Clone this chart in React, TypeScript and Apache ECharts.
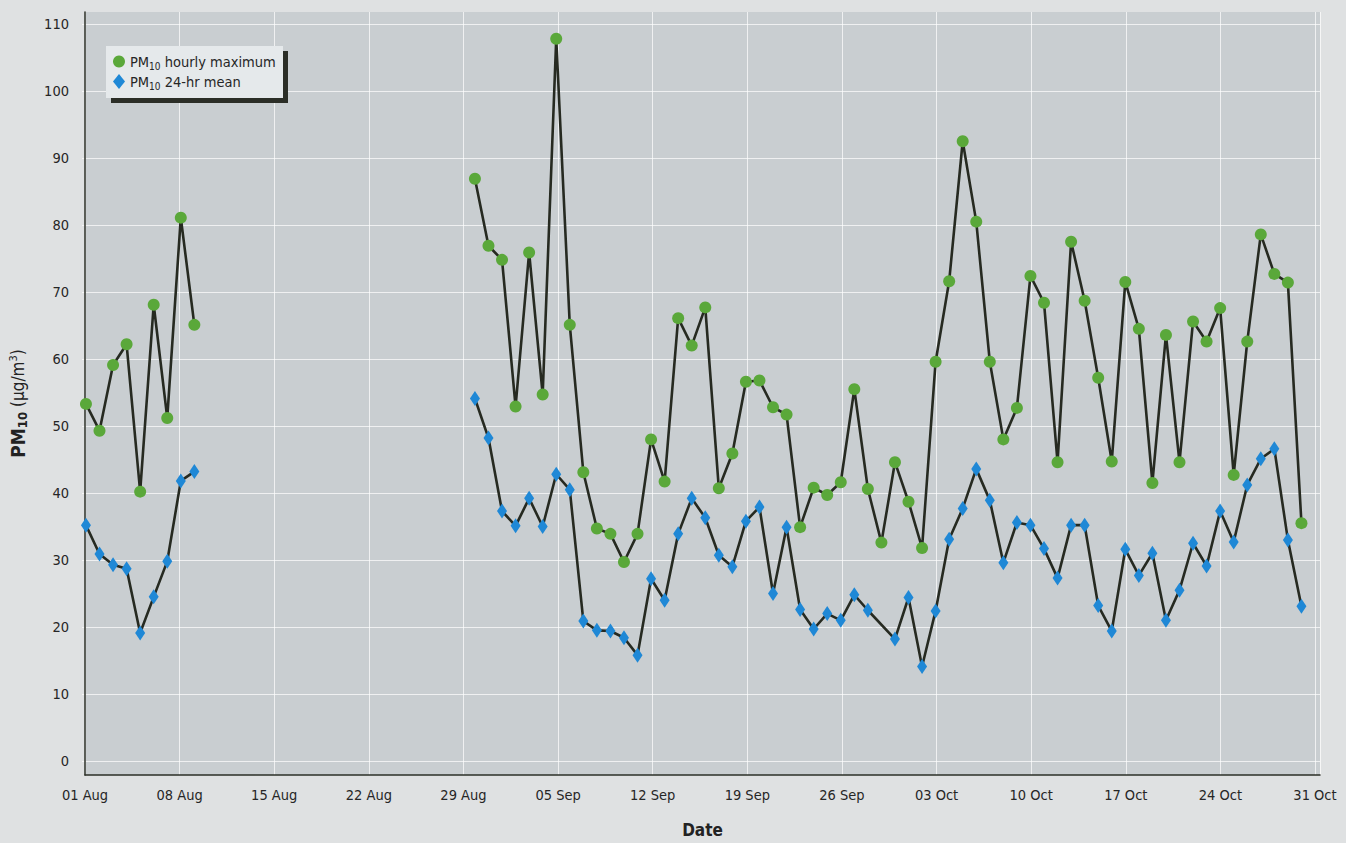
import React, { useEffect, useRef } from 'react';
import * as echarts from 'echarts';

const FONT = '"Liberation Sans Narrow", "DejaVu Sans Condensed", "Arial Narrow", sans-serif';

// x axis: days since 01 Aug, weekly ticks
const xTickLabels = ['01 Aug', '08 Aug', '15 Aug', '22 Aug', '29 Aug', '05 Sep', '12 Sep', '19 Sep', '26 Sep', '03 Oct', '10 Oct', '17 Oct', '24 Oct', '31 Oct'];
const X_MAX_DAYS = 91.37;

// first block of observations (plotted at ~07:00 each day)
const earlyHour = 7;
const earlyDates = ['08-01', '08-02', '08-03', '08-04', '08-05', '08-06', '08-07', '08-08', '08-09'];
const earlyHourlyMax = [53.3, 49.3, 59.1, 62.2, 40.2, 68.1, 51.2, 81.1, 65.1];
const earlyMean = [35.2, 30.9, 29.3, 28.7, 19.1, 24.5, 29.8, 41.8, 43.2];

// second block of observations (midnight)
const lateHour = 0;
const lateDates = [
  '08-30', '08-31',
  '09-01', '09-02', '09-03', '09-04', '09-05', '09-06', '09-07', '09-08', '09-09', '09-10',
  '09-11', '09-12', '09-13', '09-14', '09-15', '09-16', '09-17', '09-18', '09-19', '09-20',
  '09-21', '09-22', '09-23', '09-24', '09-25', '09-26', '09-27', '09-28', '09-29', '09-30',
  '10-01', '10-02', '10-03', '10-04', '10-05', '10-06', '10-07', '10-08', '10-09', '10-10',
  '10-11', '10-12', '10-13', '10-14', '10-15', '10-16', '10-17', '10-18', '10-19', '10-20',
  '10-21', '10-22', '10-23', '10-24', '10-25', '10-26', '10-27', '10-28', '10-29', '10-30',
];
const lateHourlyMax = [
  86.9, 76.9,
  74.8, 52.9, 75.9, 54.7, 107.8, 65.1, 43.1, 34.7, 33.9, 29.7,
  33.9, 48.0, 41.7, 66.1, 62.0, 67.7, 40.7, 45.9, 56.6, 56.8,
  52.8, 51.7, 34.9, 40.8, 39.7, 41.6, 55.5, 40.6, 32.6, 44.6,
  38.7, 31.8, 59.6, 71.6, 92.5, 80.5, 59.6, 48.0, 52.7, 72.4,
  68.4, 44.6, 77.5, 68.7, 57.2, 44.7, 71.5, 64.5, 41.5, 63.6,
  44.6, 65.6, 62.6, 67.6, 42.7, 62.6, 78.6, 72.7, 71.4, 35.5,
];
const lateMean = [
  54.1, 48.2,
  37.3, 35.1, 39.2, 35.0, 42.8, 40.5, 20.9, 19.5, 19.4, 18.4,
  15.8, 27.2, 24.0, 33.9, 39.2, 36.3, 30.7, 29.0, 35.8, 37.9,
  25.0, 34.9, 22.6, 19.7, 22.0, 21.0, 24.8, 22.5, null, 18.2,
  24.4, 14.1, 22.4, 33.1, 37.7, 43.6, 38.9, 29.6, 35.6, 35.2,
  31.7, 27.3, 35.2, 35.2, 23.2, 19.4, 31.6, 27.7, 31.0, 21.0,
  25.5, 32.5, 29.1, 37.3, 32.7, 41.2, 45.1, 46.6, 33.0, 23.1,
];

const SERIES_MAX = 'PM10 hourly maximum';
const SERIES_MEAN = 'PM10 24-hr mean';

const GREEN = '#5aa83a';
const BLUE = '#1f88d6';
const LINE = '#262a21';
const TEXT = '#262626';

function dayOffset(md: string, hour: number): number {
  const [m, d] = md.split('-').map(Number);
  return (Date.UTC(2000, m - 1, d, hour) - Date.UTC(2000, 7, 1, 0)) / 86400000;
}

function pairs(dates: string[], hour: number, values: (number | null)[]) {
  const out: [number, number][] = [];
  values.forEach((v, i) => {
    if (v !== null && v !== undefined) out.push([dayOffset(dates[i], hour), v]);
  });
  return out;
}

export default function App() {
  const ref = useRef<HTMLDivElement>(null);

  useEffect(() => {
    if (!ref.current) return;
    const chart = echarts.init(ref.current, undefined, { renderer: 'svg' });

    const lineSeries = (name: string, data: [number, number][], symbol: string, size: any, color: string) => ({
      name,
      type: 'line',
      xAxisIndex: 1,
      yAxisIndex: 1,
      data,
      symbol,
      symbolSize: size,
      showAllSymbol: true,
      lineStyle: { color: LINE, width: 2.6 },
      itemStyle: { color, borderWidth: 0 },
      emphasis: { disabled: true },
      z: 3,
    });

    const legendRich = {
      a: { fontSize: 14.5, lineHeight: 17, color: TEXT, fontFamily: FONT },
      s: { fontSize: 10, lineHeight: 10, padding: [9, 0, 0, 0], color: TEXT, fontFamily: FONT },
    };

    const option: any = {
      animation: false,
      backgroundColor: '#dfe1e2',
      textStyle: { fontFamily: FONT },
      grid: [
        { left: 82, right: 26, top: 12, bottom: 65, show: true, backgroundColor: '#c9ced1', borderWidth: 0 },
        { left: 82, right: 26, top: 24, bottom: 82 },
      ],
      xAxis: [
        {
          gridIndex: 0,
          type: 'value',
          min: 0,
          max: X_MAX_DAYS,
          interval: 7,
          axisLine: { show: true, onZero: false, lineStyle: { color: '#2b2f27', width: 1.5 } },
          axisTick: { show: false },
          axisLabel: {
            margin: 12,
            fontSize: 14.5,
            color: TEXT,
            fontFamily: FONT,
            showMaxLabel: false,
            formatter: (v: number) => {
              const i = Math.round(v / 7);
              return Math.abs(v - i * 7) < 1e-6 && xTickLabels[i] ? xTickLabels[i] : '';
            },
          },
          splitLine: { show: true, lineStyle: { color: 'rgba(255,255,255,0.7)', width: 1 } },
          name: 'Date',
          nameLocation: 'middle',
          nameGap: 46,
          nameTextStyle: { fontSize: 17, fontWeight: 'bold', color: '#222', fontFamily: FONT },
        },
        { gridIndex: 1, type: 'value', min: 0, max: X_MAX_DAYS, show: false },
      ],
      yAxis: [
        {
          gridIndex: 0,
          type: 'value',
          min: 0,
          max: 1,
          z: 1,
          axisLine: { show: true, lineStyle: { color: '#2b2f27', width: 1.5 } },
          axisTick: { show: false },
          axisLabel: { show: false },
          splitLine: { show: false },
          name: '{b|PM}{bs|10}{n| (µg/m}{sup|3}{n|)}',
          nameLocation: 'middle',
          nameRotate: 90,
          nameGap: 56,
          nameTextStyle: {
            fontFamily: FONT,
            fontSize: 17,
            color: '#222',
            padding: [0, 20, 0, 0],
            rich: {
              b: { fontSize: 19, fontWeight: 'bold', color: '#222', fontFamily: FONT },
              bs: { fontSize: 13, fontWeight: 'bold', color: '#222', padding: [9, 0, 0, 0], fontFamily: FONT },
              n: { fontSize: 17, color: '#222', fontFamily: FONT },
              sup: { fontSize: 11, color: '#222', padding: [0, 0, 9, 0], fontFamily: FONT },
            },
          },
        },
        {
          gridIndex: 1,
          type: 'value',
          min: 0,
          max: 110,
          interval: 10,
          axisLine: { show: false },
          axisTick: { show: false },
          axisLabel: { margin: 13, fontSize: 14.5, color: TEXT, fontFamily: FONT },
          splitLine: { show: true, lineStyle: { color: 'rgba(255,255,255,0.7)', width: 1 } },
        },
      ],
      graphic: [
        { type: 'rect', z: 15, silent: true, shape: { x: 111, y: 51, width: 177, height: 52 }, style: { fill: '#2b2e27' } },
        { type: 'rect', z: 16, silent: true, shape: { x: 106, y: 46, width: 177, height: 52 }, style: { fill: '#e5e9eb' } },
      ],
      legend: {
        z: 20,
        orient: 'vertical',
        left: 113,
        top: 52,
        itemWidth: 12,
        itemHeight: 15,
        itemGap: 1,
        padding: 0,
        selectedMode: false,
        data: [
          { name: SERIES_MAX, icon: 'circle' },
          { name: SERIES_MEAN, icon: 'diamond' },
        ],
        textStyle: { fontFamily: FONT, fontSize: 14.5, color: TEXT, rich: legendRich },
        formatter: (name: string) => '{a|PM}{s|10}{a|' + name.replace('PM10', '') + '}',
      },
      series: [
        lineSeries(SERIES_MAX, pairs(earlyDates, earlyHour, earlyHourlyMax), 'circle', 12, GREEN),
        lineSeries(SERIES_MAX, pairs(lateDates, lateHour, lateHourlyMax), 'circle', 12, GREEN),
        lineSeries(SERIES_MEAN, pairs(earlyDates, earlyHour, earlyMean), 'diamond', [10, 15], BLUE),
        lineSeries(SERIES_MEAN, pairs(lateDates, lateHour, lateMean), 'diamond', [10, 15], BLUE),
      ],
    };

    chart.setOption(option);
    return () => chart.dispose();
  }, []);

  return (
    <div
      ref={ref}
      style={{ position: 'absolute', left: 0, top: 0, width: 1346, height: 843 }}
    />
  );
}
